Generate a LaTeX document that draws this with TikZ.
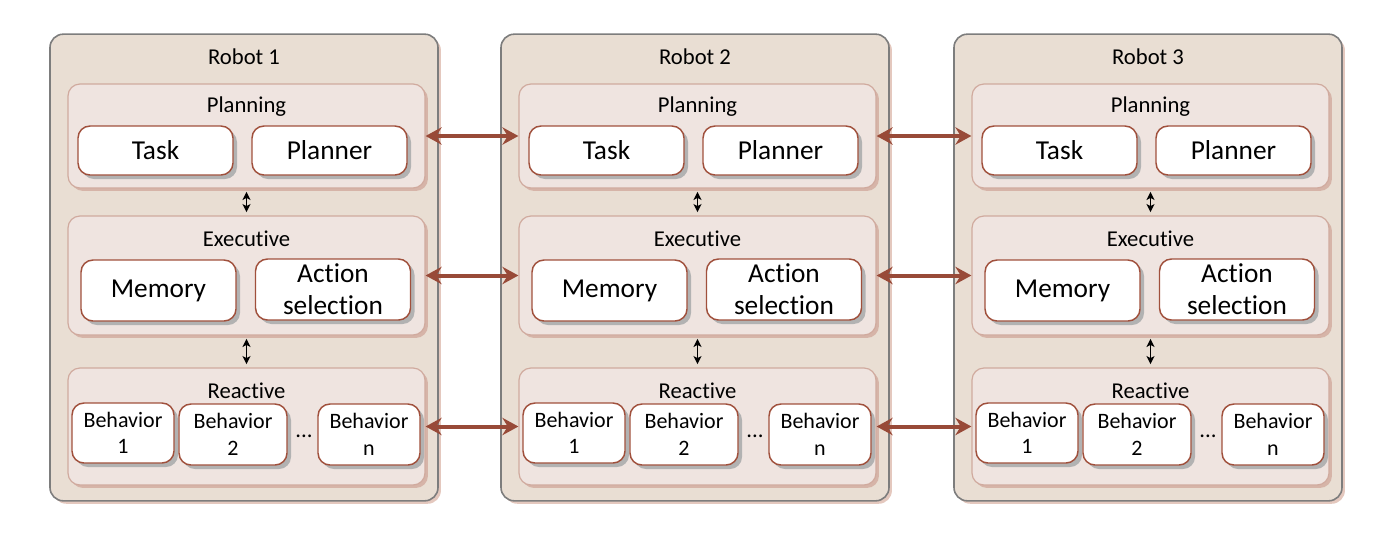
\documentclass[tikz,border=0pt]{standalone}
\usepackage{fontspec}
\setmainfont{Carlito}[Ligatures=CommonOff]
\usetikzlibrary{arrows.meta,shadows}
\definecolor{robot_fill}{RGB}{233,222,211}
\definecolor{robot_gray}{RGB}{125,125,125}
\definecolor{robot_shade}{RGB}{228,200,190}
\definecolor{panel_fill}{RGB}{239,228,224}
\definecolor{panel_line}{RGB}{208,170,158}
\definecolor{panel_shade}{RGB}{214,180,168}
\definecolor{box_line}{RGB}{160,80,60}
\definecolor{link_brown}{RGB}{152,74,56}

\begin{document}
\begin{tikzpicture}[x=0.75pt,y=-0.75pt,semithick]
    \tikzstyle{robot}=[draw=robot_gray, line width=1.2pt, fill=robot_fill, rounded corners=10pt,
      minimum width=291pt, minimum height=350pt, inner sep=0pt,
      drop shadow={shadow xshift=2.2pt, shadow yshift=-2.2pt, fill=robot_shade, opacity=1}]
    \tikzstyle{panel}=[draw=panel_line, line width=0.9pt, fill=panel_fill, rounded corners=9pt,
      minimum width=267.75pt, inner sep=0pt,
      drop shadow={shadow xshift=2.2pt, shadow yshift=-2.2pt, fill=panel_shade, opacity=1}]
    \tikzstyle{box}=[draw=box_line, line width=1.1pt, fill=white, rounded corners=9pt,
      inner sep=0pt, align=center, font=\fontsize{20.5}{24}\selectfont,
      drop shadow={shadow xshift=3pt, shadow yshift=-3pt, fill=black!30, opacity=1}]
    \tikzstyle{small}=[box, font=\fontsize{16.5}{20}\selectfont]
    \tikzstyle{title}=[anchor=base, inner sep=0pt, font=\fontsize{17}{20}\selectfont]
    \tikzstyle{link}=[<->, >={Stealth[length=12pt,width=13pt,inset=4pt]}, draw=link_brown, line width=3pt]
    \tikzstyle{updown}=[<->, >={Stealth[length=6pt,width=6pt,inset=1.5pt]}, draw=black, line width=1.2pt,
      shorten <=2.5pt, shorten >=2.5pt]

    \useasboundingbox (0,0) rectangle (1393,533);

    \foreach \i/\dx in {1/0,2/451,3/904} {
      \node[robot] (robot\i) at (244+\dx,267.5) {};
      \node[title] (name\i) at (244+\dx,64) {Robot \i};
      % planning layer
      \node[panel, minimum height=78pt] (plan\i) at (246.5+\dx,136) {};
      \node[title] (planlbl\i) at (246.5+\dx,112) {Planning};
      \node[box, minimum width=116.25pt, minimum height=36.75pt] (task\i) at (155.5+\dx,150.5) {Task};
      \node[box, minimum width=116.25pt, minimum height=36.75pt] (planner\i) at (329.5+\dx,150.5) {Planner};
      % executive layer
      \node[panel, minimum height=89.25pt] (exec\i) at (246.5+\dx,275.5) {};
      \node[title] (execlbl\i) at (246.5+\dx,246) {Executive};
      \node[box, minimum width=116.25pt, minimum height=45.75pt] (mem\i) at (158.5+\dx,290.5) {Memory};
      \node[box, minimum width=116.25pt, minimum height=45.75pt] (act\i) at (333+\dx,289.5) {Action\\selection};
      % reactive layer
      \node[panel, minimum height=87.75pt] (react\i) at (246.5+\dx,426.5) {};
      \node[title] (reactlbl\i) at (246.5+\dx,398) {Reactive};
      \node[small, minimum width=76.5pt, minimum height=45pt] (beh\i a) at (123+\dx,433) {Behavior\\1};
      \node[small, minimum width=81pt, minimum height=45.75pt] (beh\i b) at (233+\dx,434.5) {Behavior\\2};
      \node[title] (dots\i) at (304+\dx,437) {...};
      \node[small, minimum width=76.5pt, minimum height=45.75pt] (beh\i n) at (369+\dx,434.5) {Behavior\\n};
      \draw[updown] (plan\i.south) -- (exec\i.north);
      \draw[updown] (exec\i.south) -- (react\i.north);
    }

    \path
     (plan1)  edge[link] (plan2)
     (exec1)  edge[link] (exec2)
     (react1) edge[link] (react2)
     (plan2)  edge[link] (plan3)
     (exec2)  edge[link] (exec3)
     (react2) edge[link] (react3)
     ;
\end{tikzpicture}
\end{document}
